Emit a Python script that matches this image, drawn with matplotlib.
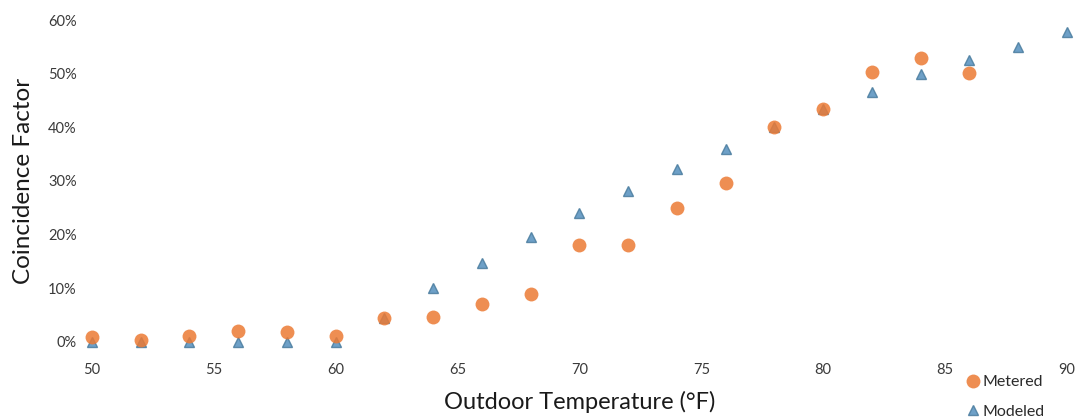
import matplotlib.pyplot as plt
from matplotlib.ticker import FuncFormatter

TEMPS = [50, 52, 54, 56, 58, 60, 62, 64, 66, 68, 70, 72, 74, 76, 78, 80, 82, 84, 86, 88, 90]
METERED_T = [50, 52, 54, 56, 58, 60, 62, 64, 66, 68, 70, 72, 74, 76, 78, 80, 82, 84, 86]
METERED = [0.010, 0.003, 0.012, 0.020, 0.019, 0.012, 0.045, 0.047, 0.070, 0.090, 0.180, 0.180,
           0.250, 0.296, 0.400, 0.434, 0.503, 0.530, 0.502]
MODELED = [0.000, 0.000, 0.000, 0.000, 0.000, 0.000, 0.045, 0.100, 0.147, 0.196, 0.240, 0.282,
           0.322, 0.360, 0.400, 0.434, 0.466, 0.499, 0.525, 0.550, 0.578]
X_TICKS = [50, 55, 60, 65, 70, 75, 80, 85, 90]
Y_TICKS = [0, 0.1, 0.2, 0.3, 0.4, 0.5, 0.6]

ORANGE = '#EC7A34'
BLUE = '#5590BE'
FONT = 'Lato'

fig = plt.figure(figsize=(10.78, 4.17), dpi=100)
ax = fig.add_axes([0.0853, 0.18, 0.9045, 0.772])

ax.plot(TEMPS, MODELED, linestyle='none', marker='^', markersize=7.5,
        color=BLUE, alpha=0.85, markeredgecolor='#4a7c9e', label='Modeled',
        clip_on=False, zorder=3)
ax.plot(METERED_T, METERED, linestyle='none', marker='o', markersize=10,
        color=ORANGE, alpha=0.85, markeredgewidth=0, label='Metered',
        clip_on=False, zorder=4)

ax.set_xlim(50, 90)
ax.set_ylim(0, 0.6)
ax.set_xticks(X_TICKS)
ax.set_yticks(Y_TICKS)
ax.yaxis.set_major_formatter(FuncFormatter(lambda v, _: f'{v * 100:.0f}%'))
ax.tick_params(length=0, labelsize=10.5, labelcolor='#3a3a3a')
ax.tick_params(axis='x', pad=15)
ax.tick_params(axis='y', pad=11)
for lbl in ax.get_xticklabels() + ax.get_yticklabels():
  lbl.set_family(FONT)
for side in ax.spines.values():
  side.set_visible(False)

ax.set_xlabel('Outdoor Temperature (°F)', fontsize=17, family=FONT, labelpad=10,
              color='#1a1a1a')
ax.set_ylabel('Coincidence Factor', fontsize=17.5, family=FONT, labelpad=10,
              color='#1a1a1a')

handles, labels = ax.get_legend_handles_labels()
fig.legend(handles[::-1], labels[::-1], loc='upper left', bbox_to_anchor=(0.895, 0.1),
           frameon=False, prop={'family': FONT, 'size': 11.5}, handletextpad=0.1,
           handlelength=1.0, labelspacing=0.95, borderpad=0, borderaxespad=0,
           labelcolor='#2a2a2a')

plt.savefig('out.png', dpi=100)
plt.close()
